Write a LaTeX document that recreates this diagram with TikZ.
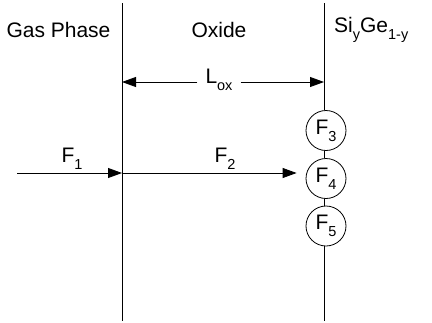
\documentclass[tikz,border=0pt]{standalone}
\usepackage{fontspec}
\setmainfont{Liberation Sans}
\usetikzlibrary{arrows.meta}
\newcommand{\lowidx}[1]{\raisebox{-0.34em}{\fontsize{14.5}{14.5}\selectfont #1}}
\tikzset{
  lbl/.style={font=\fontsize{21}{23}\selectfont, inner sep=0pt},
  flux/.style={circle, draw, line width=0.8pt, minimum size=40pt, inner sep=0pt, font=\fontsize{21}{23}\selectfont},
  wall/.style={line width=0.8pt},
  arr/.style={line width=0.8pt, -{Triangle[length=14pt,width=10pt]}},
}
\begin{document}
\begin{tikzpicture}[x=1pt,y=-1pt]
\useasboundingbox (0,0) rectangle (432,322);
% walls
\coordinate (lt) at (122,3);
\coordinate (lb) at (122,321);
\coordinate (rt) at (324,3);
\coordinate (rb) at (324,321);
\coordinate (lmid) at (122,173);
\coordinate (src) at (17,173);
\draw[wall] (lt) -- (lb);
% flux circles
\node[flux] (f3) at (326,130.5) {F\lowidx{3}};
\node[flux] (f4) at (326,178.5) {F\lowidx{4}};
\node[flux] (f5) at (326,226) {F\lowidx{5}};
\draw[wall] (rt) -- (rt |- f3.north);
\draw[wall] (rt |- f3.south) -- (rt |- f4.north);
\draw[wall] (rt |- f4.south) -- (rt |- f5.north);
\draw[wall] (rt |- f5.south) -- (rb);
% region labels
\node[lbl] (gas) at (58.5,30) {Gas Phase};
\node[lbl] (ox) at (219,30) {Oxide};
\node[lbl, anchor=west] (sige) at (334,30) {Si\lowidx{y}Ge\lowidx{1-y}};
% thickness
\node[lbl] (lox) at (219,80) {L\lowidx{ox}};
\coordinate (la) at (122,82);
\coordinate (ra) at (324,82);
\draw[arr] (lox.west |- la) ++(-8,0) -- (la);
\draw[arr] (lox.east |- ra) ++(8,0) -- (ra);
% fluxes
\node[lbl] (F1) at (72,159) {F\lowidx{1}};
\node[lbl] (F2) at (225,159) {F\lowidx{2}};
\draw[arr] (src) -- (lmid);
\draw[arr] (lmid) -- ([xshift=-9pt]f4.west |- lmid);
\end{tikzpicture}
\end{document}
